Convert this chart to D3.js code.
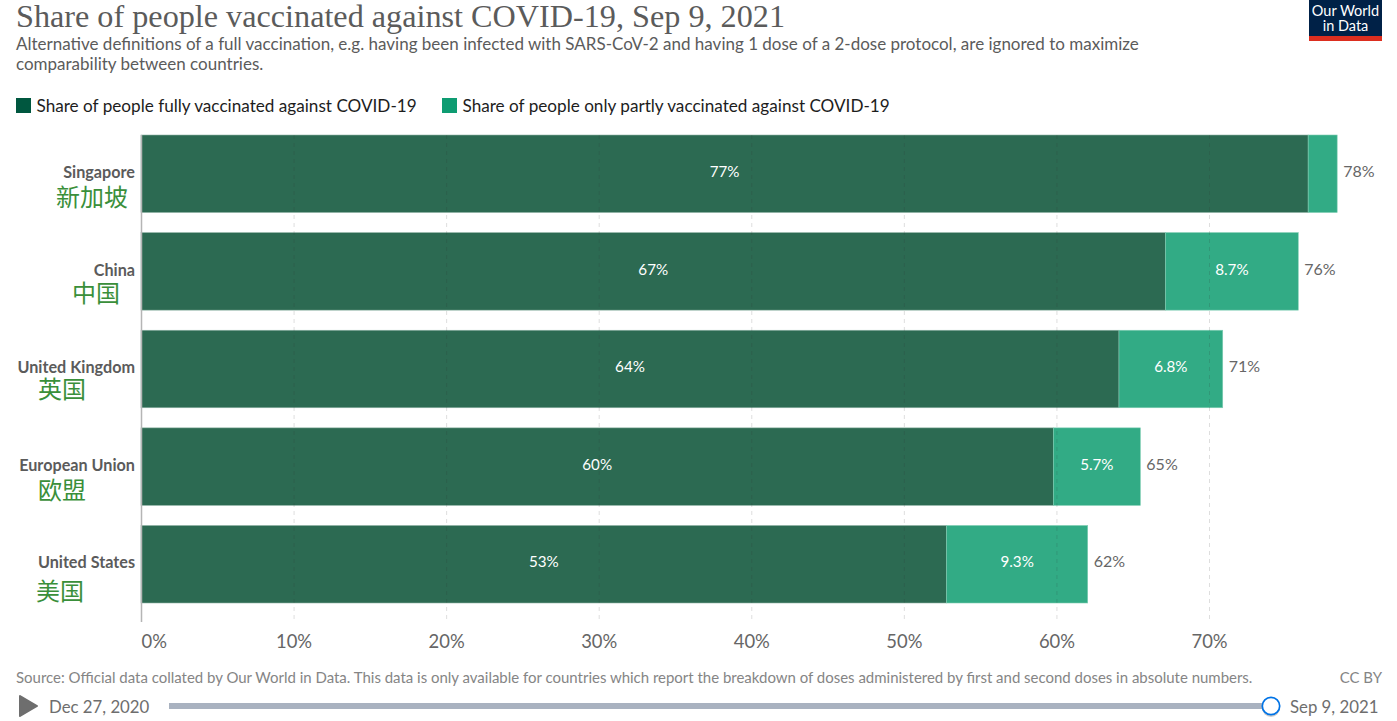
<!doctype html>
<html>
<head>
<meta charset="utf-8">
<title>Share of people vaccinated against COVID-19</title>
<script src="https://d3js.org/d3.v7.min.js"></script>
<style>
  html, body { margin: 0; padding: 0; background: #fff; overflow: hidden; }
  svg { display: block; font-family: Lato, sans-serif; }
  .title { font-family: "Liberation Serif", serif; font-size: 30.5px; fill: #5b5b5b; }
  .sub { font-size: 17px; fill: #5b5b5b; }
  .legend { font-size: 17.15px; fill: #1d1d1d; }
  .name { font-size: 16.2px; font-weight: 700; fill: #5b5b5b; text-anchor: end; }
  .cn { font-family: "Noto Sans CJK SC", sans-serif; font-size: 24px; fill: #3a8f3a; text-anchor: middle; }
  .inner { font-size: 15.2px; fill: #fff; text-anchor: middle; }
  .total { font-size: 16px; fill: #666; }
  .tick text { font-family: Lato, sans-serif; font-size: 18.4px; fill: #666; }
  .foot { font-size: 14.97px; fill: #858585; }
  .date { font-size: 16.8px; fill: #6e6e6e; }
</style>
</head>
<body>
<svg id="vis" width="1397" height="721"></svg>
<script>
var countries = ["Singapore", "China", "United Kingdom", "European Union", "United States"];
var chinese = ["新加坡", "中国", "英国", "欧盟", "美国"];
var fully = [76.5, 67.15, 64.1, 59.8, 52.8];
var partly = [1.9, 8.7, 6.8, 5.7, 9.25];
var fullyLabels = ["77%", "67%", "64%", "60%", "53%"];
var partlyLabels = ["", "8.7%", "6.8%", "5.7%", "9.3%"];
var totalLabels = ["78%", "76%", "71%", "65%", "62%"];
var ticks = [0, 10, 20, 30, 40, 50, 60, 70];
var seriesNames = ["Share of people fully vaccinated against COVID-19", "Share of people only partly vaccinated against COVID-19"];

// hand placed chinese annotations: centre x and baseline offset from the bar top
var cnX = [92, 96, 62, 62, 60];
var cnDy = [71, 69, 68, 71, 75];

var darkBar = "#2c6a52", lightBar = "#32ab85";

var svg = d3.select("#vis");

var x = d3.scaleLinear().domain([0, 70]).range([141, 1209]);
var y = d3.scaleBand().domain(countries).range([135, 603]).paddingInner(0.206);

// header
svg.append("text").attr("class", "title").attr("x", 16).attr("y", 26.5)
    .attr("textLength", 769).attr("lengthAdjust", "spacingAndGlyphs")
    .text("Share of people vaccinated against COVID-19, Sep 9, 2021");
svg.append("text").attr("class", "sub").attr("x", 16).attr("y", 50)
    .text("Alternative definitions of a full vaccination, e.g. having been infected with SARS-CoV-2 and having 1 dose of a 2-dose protocol, are ignored to maximize");
svg.append("text").attr("class", "sub").attr("x", 16).attr("y", 70)
    .text("comparability between countries.");

// logo
svg.append("rect").attr("x", 1309).attr("y", 0).attr("width", 73).attr("height", 41).attr("fill", "#002147");
svg.append("rect").attr("x", 1309).attr("y", 36).attr("width", 73).attr("height", 5).attr("fill", "#dc2e1f");
svg.append("text").attr("x", 1345.5).attr("y", 16).attr("text-anchor", "middle")
    .attr("fill", "#fff").attr("font-size", 14.5).text("Our World");
svg.append("text").attr("x", 1345.5).attr("y", 31).attr("text-anchor", "middle")
    .attr("fill", "#fff").attr("font-size", 14.5).text("in Data");

// legend
var legendX = [16, 442], legendColors = ["#00573f", "#0e9c72"];
seriesNames.forEach(function(name, i) {
  svg.append("rect").attr("x", legendX[i]).attr("y", 98).attr("width", 15).attr("height", 15).attr("fill", legendColors[i]);
  svg.append("text").attr("class", "legend").attr("x", legendX[i] + 20.5).attr("y", 112).text(name);
});

// bars
var rows = svg.append("g").selectAll("g").data(countries).enter().append("g");

rows.append("rect")
    .attr("x", x(0))
    .attr("y", function(d) { return y(d); })
    .attr("width", function(d, i) { return x(fully[i]) - x(0); })
    .attr("height", y.bandwidth())
    .attr("fill", darkBar)
    .attr("stroke", "#8fb3a5").attr("stroke-width", 0.6);

rows.append("rect")
    .attr("x", function(d, i) { return x(fully[i]); })
    .attr("y", function(d) { return y(d); })
    .attr("width", function(d, i) { return x(partly[i]) - x(0); })
    .attr("height", y.bandwidth())
    .attr("fill", lightBar)
    .attr("stroke", "#7fcdb3").attr("stroke-width", 0.6);

// axis with the grid running up through the bars
var axis = d3.axisBottom(x).tickValues(ticks).tickSize(0).tickPadding(0)
    .tickFormat(function(d) { return d + "%"; });

var gAxis = svg.append("g").attr("transform", "translate(0,630)").call(axis);
gAxis.select(".domain").remove();
gAxis.selectAll("text").attr("y", 17.5).attr("dy", 0);
gAxis.selectAll(".tick").filter(function(d) { return d === 0; }).select("text")
    .attr("text-anchor", "start").attr("x", 0);
gAxis.selectAll(".tick").append("line")
    .attr("y1", -495).attr("y2", -8)
    .attr("stroke", function(d) { return d === 0 ? "#b5b5b5" : "#333"; })
    .attr("stroke-opacity", function(d) { return d === 0 ? 1 : 0.16; })
    .attr("stroke-width", function(d) { return d === 0 ? 1.5 : 1; })
    .attr("stroke-dasharray", function(d) { return d === 0 ? null : "4,4"; });

// row labels
rows.append("text").attr("class", "name").attr("x", 135)
    .attr("y", function(d) { return y(d) + 43; })
    .text(function(d) { return d; });
rows.append("text").attr("class", "cn")
    .attr("x", function(d, i) { return cnX[i]; })
    .attr("y", function(d, i) { return y(d) + cnDy[i]; })
    .text(function(d, i) { return chinese[i]; });

rows.append("text").attr("class", "inner")
    .attr("x", function(d, i) { return (x(0) + x(fully[i])) / 2; })
    .attr("y", function(d) { return y(d) + 42; })
    .text(function(d, i) { return fullyLabels[i]; });
rows.append("text").attr("class", "inner")
    .attr("x", function(d, i) { return x(fully[i] + partly[i] / 2); })
    .attr("y", function(d) { return y(d) + 42; })
    .text(function(d, i) { return partlyLabels[i]; });
rows.append("text").attr("class", "total")
    .attr("x", function(d, i) { return x(fully[i] + partly[i]) + 6; })
    .attr("y", function(d) { return y(d) + 42; })
    .text(function(d, i) { return totalLabels[i]; });

// footer
svg.append("text").attr("class", "foot").attr("x", 16).attr("y", 682.5)
    .text("Source: Official data collated by Our World in Data. This data is only available for countries which report the breakdown of doses administered by first and second doses in absolute numbers.");
svg.append("text").attr("class", "foot").attr("x", 1382).attr("y", 682.5).attr("text-anchor", "end").text("CC BY");

// timeline
svg.append("path").attr("d", "M20,696 L37,706 L20,716 Z").attr("fill", "#6e6e6e")
    .attr("stroke", "#6e6e6e").attr("stroke-width", 2).attr("stroke-linejoin", "round");
svg.append("text").attr("class", "date").attr("x", 49).attr("y", 713).text("Dec 27, 2020");
svg.append("rect").attr("x", 169).attr("y", 703).attr("width", 1102).attr("height", 6).attr("fill", "#a9b2c0");
svg.append("circle").attr("cx", 1271).attr("cy", 708).attr("r", 9).attr("fill", "#000").attr("opacity", 0.2);
svg.append("circle").attr("cx", 1271).attr("cy", 706).attr("r", 8.7).attr("fill", "#fff")
    .attr("stroke", "#0073e6").attr("stroke-width", 1.7);
svg.append("text").attr("class", "date").attr("x", 1290).attr("y", 713).text("Sep 9, 2021");
</script>
</body>
</html>
